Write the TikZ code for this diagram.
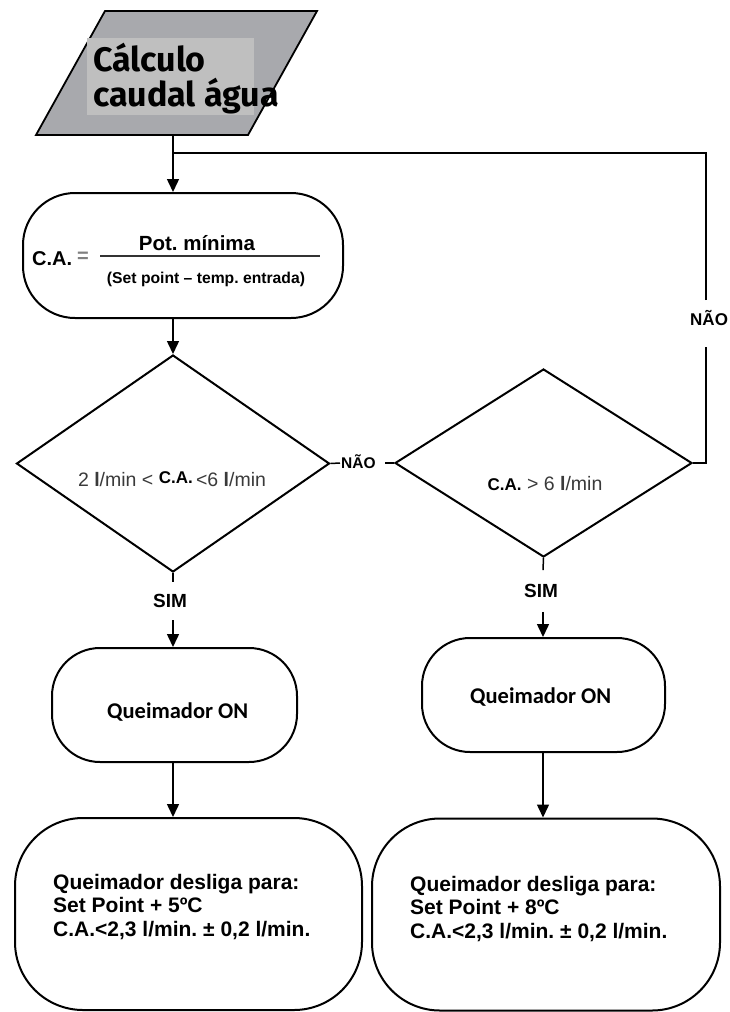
\documentclass[tikz,border=0pt]{standalone}
\usepackage{fontspec}
\setmainfont{Liberation Sans}
\newfontfamily\titlefont{Fira Sans}
\newfontfamily\calfont{Carlito}
\usetikzlibrary{shapes.geometric,arrows.meta}
\definecolor{parfill}{HTML}{A8A9AD}
\definecolor{txtbox}{HTML}{BFBFBF}
\definecolor{dtxt}{HTML}{3A3A3A}
\newcommand{\setfs}[1]{\fontsize{#1}{#1}\selectfont}
\frenchspacing
\begin{document}
\frenchspacing
\begin{tikzpicture}[x=1pt,y=-1pt,
  shp/.style={draw=black,line width=2pt},
  conn/.style={draw=black,line width=1.5pt},
  arr/.style={conn,-{Triangle[length=13pt,width=12pt]}},
  term/.style={shp,rectangle,inner sep=0pt},
  dia/.style={shp,diamond,inner sep=0pt},
  plain/.style={inner sep=0pt},
  simlbl/.style={font=\bfseries\setfs{19},inner xsep=0pt},
  fintxt/.style={plain,anchor=north west,align=left,font=\bfseries\fontsize{21}{23.5}\selectfont},
  ontxt/.style={plain,anchor=base west,font=\calfont\bfseries\setfs{22.5}}
]
\useasboundingbox (0,0) rectangle (729,1012);

% title parallelogram
\filldraw[fill=parfill,draw=black,line width=1.8pt] (105,11) -- (317,11) -- (248,135) -- (36,135) -- cycle;
\fill[txtbox] (87,38) rectangle (254,115);
\node[plain,anchor=base west,font=\titlefont\bfseries\setfs{34}] (tl1) at (93,71) {Cálculo};
\node[plain,anchor=base west,font=\titlefont\bfseries\setfs{34}] (tl2) at (93,106) {caudal água};
\coordinate (title) at (173,135);
\coordinate (L) at (173,0);
\coordinate (R) at (543,0);

% formula terminator
\node[term,rounded corners=52pt,minimum width=320pt,minimum height=125pt] (calc) at (183,255.5) {};
\node[plain,anchor=base west,font=\bfseries\setfs{20}] (ca) at (32,265) {C.A.};
\node[plain,text=gray,font=\bfseries\setfs{20}] (eq) at (83,257) {=};
\draw[line width=1.5pt,black!80] (100,256) -- (320,256);
\node[plain,anchor=base,font=\bfseries\setfs{20.5}] (num) at (197,250) {Pot. mínima};
\node[plain,anchor=base,font=\bfseries\setfs{15.7}] (den) at (206,283) {(Set point – temp. entrada)};

% decisions
\node[dia,minimum width=313pt,minimum height=217pt] (d1) at (173,463.5) {};
\node[dia,minimum width=297pt,minimum height=188pt] (d2) at (543.5,463) {};
\node[plain,anchor=base,font=\setfs{19.5},text=dtxt] (d1t) at (172,486)
  {2 \textbf{l}/min < \raisebox{3pt}{\textcolor{black}{\bfseries\setfs{17}C.A.}}\,<6 \textbf{l}/min};
\node[plain,anchor=base,font=\setfs{19.5},text=dtxt] (d2t) at (545,490)
  {\textcolor{black}{\bfseries\setfs{17}C.A.} > 6 \textbf{l}/min};

% NAO labels
\node[plain,anchor=base west,font=\bfseries\setfs{15.5}] (nao1) at (341,468) {NÃO};
\coordinate (nl) at (340,463);
\coordinate (nr) at (385,463);
\node[plain,anchor=base west,font=\bfseries\setfs{17}] (nao2) at (690,325) {NÃO};
\coordinate (nu) at (706,300);
\coordinate (nd) at (706,347);
\coordinate (lr) at (706,153);
\coordinate (jn) at (173,153);

% SIM labels
\node[simlbl,inner ysep=12.5pt] (sim1) at (170,601) {SIM};
\node[simlbl,inner ysep=14pt] (sim2) at (541,591) {SIM};

% burner on
\node[term,rounded corners=48pt,minimum width=245pt,minimum height=114pt] (on1) at (174.5,705) {};
\node[term,rounded corners=48pt,minimum width=243pt,minimum height=114pt] (on2) at (543.5,695) {};
\node[ontxt] (on1t) at (107,718) {Queimador ON};
\node[ontxt] (on2t) at (470,703) {Queimador ON};

% final boxes
\node[term,rounded corners=68pt,minimum width=347pt,minimum height=192pt] (fin1) at (188.5,914) {};
\node[term,rounded corners=68pt,minimum width=348pt,minimum height=192pt] (fin2) at (546,914.5) {};
\node[fintxt] (fin1t) at (53,874) {Queimador desliga para:\\Set Point + 5ºC\\C.A.<2,3 l/min. ± 0,2 l/min.};
\node[fintxt] (fin2t) at (410,876) {Queimador desliga para:\\Set Point + 8ºC\\C.A.<2,3 l/min. ± 0,2 l/min.};

% connectors
\draw[arr] (title) -- (L |- calc.north);
\draw[arr] (L |- calc.south) -- (d1.north);
\draw[conn] (d1.east) -- (nl);
\draw[conn] (nr) -- (d2.west);
\draw[conn] (d2.east) -| (nd);
\draw[conn] (nu) -- (lr) -- (jn);
\draw[conn] (d1.south) -- (L |- sim1.north);
\draw[arr] (L |- sim1.south) -- (L |- on1.north);
\draw[conn] (d2.south) -- (R |- sim2.north);
\draw[arr] (R |- sim2.south) -- (R |- on2.north);
\draw[arr] (L |- on1.south) -- (L |- fin1.north);
\draw[arr] (R |- on2.south) -- (R |- fin2.north);
\end{tikzpicture}
\end{document}
